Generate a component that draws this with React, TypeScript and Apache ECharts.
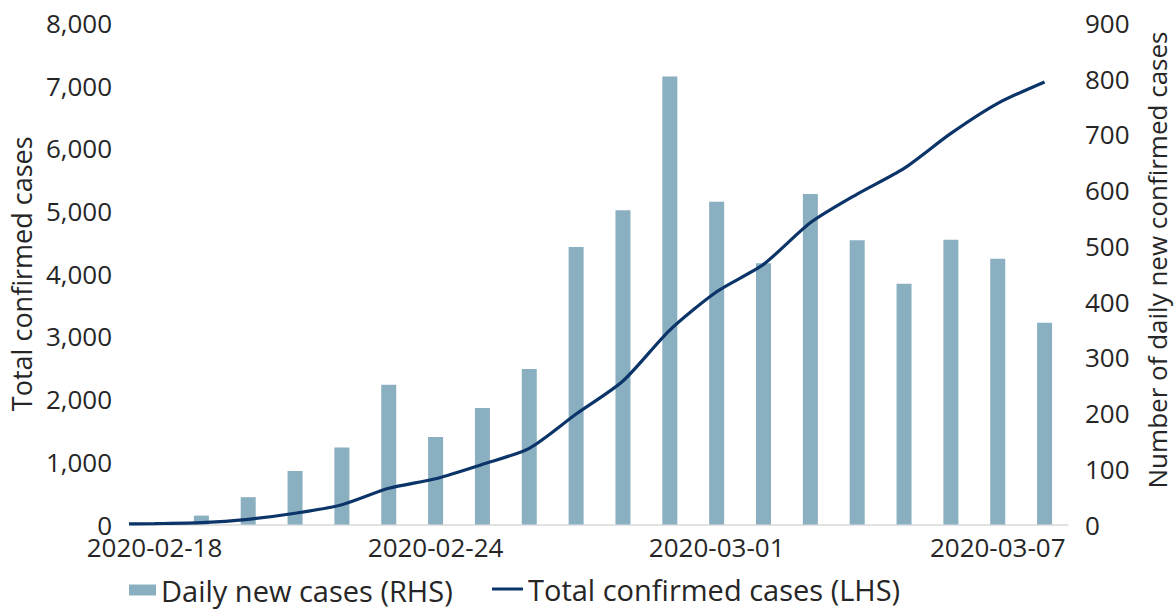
import React, { useEffect, useRef } from "react";
import * as echarts from "echarts";

// Categories (bars): one per day
const categories = [
  "2020-02-18", "2020-02-19", "2020-02-20", "2020-02-21", "2020-02-22",
  "2020-02-23", "2020-02-24", "2020-02-25", "2020-02-26", "2020-02-27",
  "2020-02-28", "2020-02-29", "2020-03-01", "2020-03-02", "2020-03-03",
  "2020-03-04", "2020-03-05", "2020-03-06", "2020-03-07", "2020-03-08",
];

// Daily new cases (RHS)
const dailyNew = [
  0, 16, 49, 96, 138, 251, 157, 209, 279, 498,
  564, 804, 579, 469, 593, 510, 432, 511, 477, 362,
];

// Total confirmed cases (LHS); the line begins one day before the first category
const totalDates = ["2020-02-17", ...categories];
const totalConfirmed = [
  5, 14, 29, 83, 179, 316, 577, 730, 960, 1215, 1762,
  2289, 3102, 3713, 4150, 4813, 5271, 5681, 6239, 6718, 7060,
];

const leftTicks = { min: 0, max: 8000, interval: 1000 };
const rightTicks = { min: 0, max: 900, interval: 100 };

const BAR_NAME = "Daily new cases (RHS)";
const LINE_NAME = "Total confirmed cases (LHS)";
const LEFT_TITLE = "Total confirmed cases";
const RIGHT_TITLE = "Number of daily new confirmed cases";

const FONT = "Open Sans";
const TEXT = "#262626";
const BAR_COLOR = "#8aafc1";
const LINE_COLOR = "#0b3468";

export default function App() {
  const ref = useRef<HTMLDivElement>(null);

  useEffect(() => {
    document.body.style.margin = "0";
    const chart = echarts.init(ref.current!, undefined, { renderer: "svg" });
    const lineData = totalDates.map((d, i) => [
      categories.indexOf(d) === -1 ? -1 : categories.indexOf(d),
      totalConfirmed[i],
    ]);
    const legendText = {
      fontFamily: FONT,
      fontSize: 29,
      lineHeight: 30,
      color: TEXT,
      padding: [0, 0, 8, 0],
    };
    chart.setOption({
      animation: false,
      backgroundColor: "#ffffff",
      textStyle: { fontFamily: FONT, color: TEXT },
      grid: { left: 129, right: 107, top: 23, bottom: 84.5 },
      legend: [
        {
          left: 129,
          top: 571,
          padding: 0,
          itemWidth: 27,
          itemHeight: 11,
          icon: "rect",
          textStyle: legendText,
          data: [BAR_NAME],
        },
        {
          left: 492,
          top: 570,
          padding: 0,
          itemWidth: 31,
          itemHeight: 3,
          icon: "rect",
          textStyle: legendText,
          data: [LINE_NAME],
        },
      ],
      graphic: [
        {
          type: "text",
          x: 1157,
          y: 260,
          rotation: Math.PI / 2,
          style: {
            text: RIGHT_TITLE,
            font: `26px "${FONT}"`,
            fill: TEXT,
            align: "center",
            verticalAlign: "middle",
          },
        },
      ],
      xAxis: [
        {
          type: "category",
          data: categories,
          boundaryGap: true,
          axisLine: { lineStyle: { color: "#d9d9d9", width: 1.5 } },
          axisTick: { show: false },
          axisLabel: {
            interval: 5,
            margin: 9,
            fontFamily: FONT,
            fontSize: 26,
            color: TEXT,
          },
        },
        {
          type: "value",
          min: -0.5,
          max: categories.length - 0.5,
          show: false,
        },
      ],
      yAxis: [
        {
          type: "value",
          ...leftTicks,
          name: LEFT_TITLE,
          nameLocation: "middle",
          nameGap: 94,
          nameTextStyle: { fontFamily: FONT, fontSize: 27, color: TEXT },
          axisLine: { show: false },
          axisTick: { show: false },
          splitLine: { show: false },
          axisLabel: {
            margin: 19,
            fontFamily: FONT,
            fontSize: 26,
            color: TEXT,
            formatter: (v: number) => v.toLocaleString("en-US"),
          },
        },
        {
          type: "value",
          ...rightTicks,
          position: "right",
          axisLine: { show: false },
          axisTick: { show: false },
          splitLine: { show: false },
          axisLabel: {
            margin: 17,
            fontFamily: FONT,
            fontSize: 26,
            color: TEXT,
          },
        },
      ],
      series: [
        {
          name: BAR_NAME,
          type: "bar",
          xAxisIndex: 0,
          yAxisIndex: 1,
          data: dailyNew,
          barWidth: 15,
          itemStyle: { color: BAR_COLOR },
        },
        {
          name: LINE_NAME,
          type: "line",
          xAxisIndex: 1,
          yAxisIndex: 0,
          data: lineData,
          symbol: "none",
          smooth: 0.25,
          clip: true,
          lineStyle: { color: LINE_COLOR, width: 3.2 },
          itemStyle: { color: LINE_COLOR },
        },
      ],
    });
    return () => chart.dispose();
  }, []);

  return <div ref={ref} style={{ width: 1175, height: 609 }} />;
}
